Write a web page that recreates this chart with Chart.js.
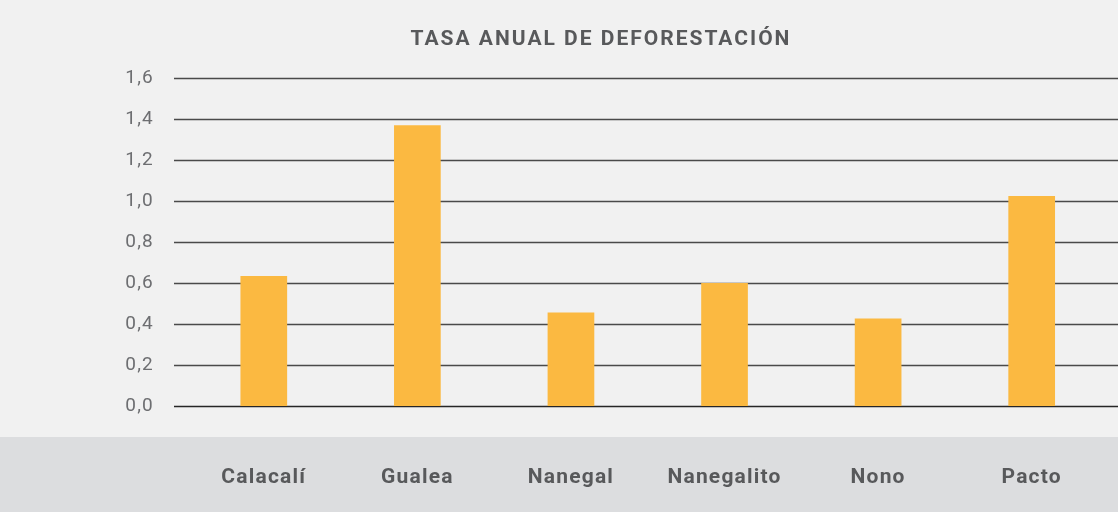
<!DOCTYPE html>
<html>
<head>
<meta charset="utf-8">
<script src="https://cdn.jsdelivr.net/npm/chart.js@4.4.1/dist/chart.umd.min.js"></script>
<style>
  html, body { margin: 0; padding: 0; background: #f1f1f1; }
  #wrap { width: 1118px; height: 512px; position: relative; }
</style>
</head>
<body>
<div id="wrap"><canvas id="c" width="1118" height="512"></canvas></div>
<script>
const chartTitle = 'TASA ANUAL DE DEFORESTACIÓN';
const categories = ['Calacalí', 'Gualea', 'Nanegal', 'Nanegalito', 'Nono', 'Pacto'];
const values = [0.634, 1.369, 0.456, 0.600, 0.427, 1.025];
const yTickValues = [0, 0.2, 0.4, 0.6, 0.8, 1.0, 1.2, 1.4, 1.6];
const yTickLabels = ['0,0', '0,2', '0,4', '0,6', '0,8', '1,0', '1,2', '1,4', '1,6'];

const FONT = 'Roboto, "Open Sans", sans-serif';

const deco = {
  id: 'deco',
  beforeDraw(chart) {
    const ctx = chart.ctx;
    const a = chart.chartArea;
    ctx.save();
    ctx.fillStyle = '#f1f1f1';
    ctx.fillRect(0, 0, chart.width, chart.height);
    ctx.fillStyle = '#dcdddf';
    ctx.fillRect(0, a.bottom + 31, chart.width, chart.height - a.bottom - 31);
    ctx.restore();
    ctx.letterSpacing = '1.2px';
  },
  beforeDatasetsDraw(chart) {
    const ctx = chart.ctx;
    const a = chart.chartArea;
    const y = chart.scales.y;
    ctx.save();
    yTickValues.forEach(v => {
      const py = Math.round(y.getPixelForValue(v)) + 0.5;
      ctx.beginPath();
      ctx.strokeStyle = v === 0 ? '#262626' : '#4a4a4a';
      ctx.lineWidth = 1.3;
      ctx.moveTo(a.left - 13, py);
      ctx.lineTo(chart.width, py);
      ctx.stroke();
    });
    ctx.restore();
  },
  afterDraw(chart) {
    const ctx = chart.ctx;
    ctx.save();
    ctx.letterSpacing = '2px';
    ctx.font = 'bold 21px ' + FONT;
    ctx.fillStyle = '#58595b';
    ctx.textAlign = 'center';
    ctx.textBaseline = 'middle';
    ctx.fillText(chartTitle, chart.width / 2 + 42, 40);
    ctx.restore();
  }
};

new Chart(document.getElementById('c'), {
  type: 'bar',
  data: {
    labels: categories,
    datasets: [{
      data: values,
      backgroundColor: '#fbb941',
      borderWidth: 0,
      barPercentage: 0.304,
      categoryPercentage: 1.0
    }]
  },
  options: {
    responsive: false,
    devicePixelRatio: 1,
    animation: false,
    layout: { padding: { top: 78, right: 2, left: 0, bottom: 0 } },
    plugins: {
      legend: { display: false },
      title: { display: false },
      tooltip: { enabled: false }
    },
    scales: {
      x: {
        grid: { display: false, drawTicks: false },
        border: { display: false },
        ticks: {
          padding: 59,
          color: '#58595b',
          font: { family: FONT, size: 21, weight: 'bold' }
        },
        afterFit(scale) { scale.height = 106; }
      },
      y: {
        min: 0,
        max: 1.6,
        afterBuildTicks(scale) { scale.ticks = yTickValues.map(v => ({ value: v })); },
        grid: { display: false, drawTicks: false },
        border: { display: false },
        ticks: {
          padding: 33,
          color: '#6d6e71',
          font: { family: FONT, size: 19 },
          callback: (v, i) => yTickLabels[i]
        },
        afterFit(scale) { scale.width = 187; }
      }
    }
  },
  plugins: [deco]
});
</script>
</body>
</html>
